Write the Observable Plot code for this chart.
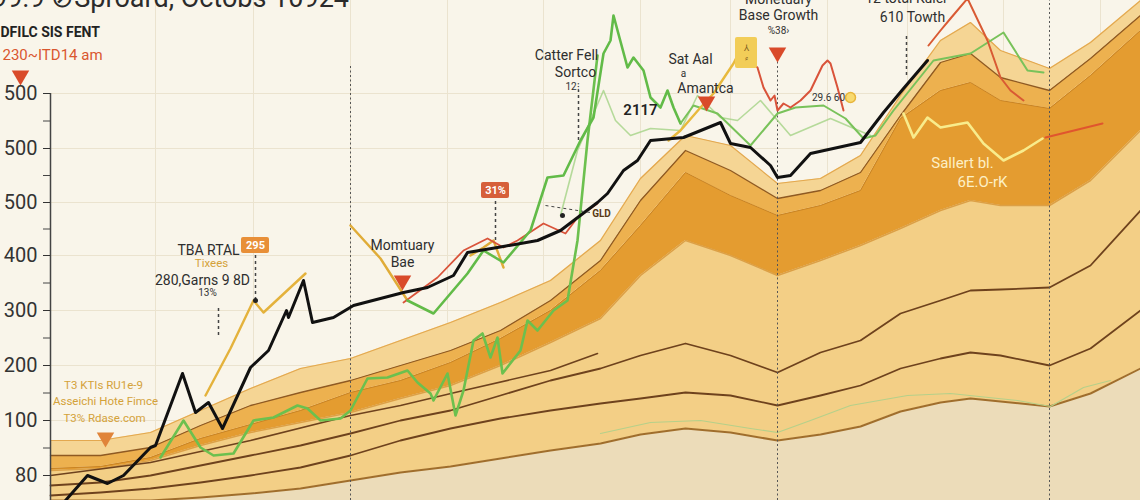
<!DOCTYPE html>
<html><head><meta charset="utf-8">
<script src="https://cdn.jsdelivr.net/npm/d3@7"></script>
<script src="https://cdn.jsdelivr.net/npm/@observablehq/plot@0.6"></script>
<style>
html,body{margin:0;padding:0;background:#f9f5ea;overflow:hidden}
#wrap{position:relative;width:1140px;height:500px;}
#title{position:absolute;left:-8px;top:-16px;font:27px Roboto, sans-serif;line-height:28px;color:#2b2b2b;white-space:nowrap;z-index:2}
</style></head><body>
<div id="wrap"><div id="title">99.9 ⊘Sproard, Octobs 10924</div><div id="chart"></div></div>
<script>
// axis ticks
const tickVals = [5,16,27,38,49,59.6,70.4,81.4];
const tickLabels = ["80","100","200","300","400","500","500","500"];
const minorVals = [10.5,21.5,32.5,43.5,54.3,65,75.9];
const gridXVals = [10.5,20.3,30,39.7,49.3,59,68,77.7,85.7,95.3,105];

// stacked band boundaries
const bandT    = [0,5,10,15,20,25,30,35,40,45,50,55,59,63.5,68,72.7,77,81,85,89,92,95,99.9,104,109];
const baseTop  = [0,0,0,0.6,1.4,2.4,4,5.6,6.8,8.4,10,11.4,13.2,14.4,13.6,12,13.2,14.8,17.8,19.6,20.4,19.8,18.8,21.4,26.4];
const line2    = [1,1.6,2.4,3.6,5,6.6,9,12,14.4,16.4,18,19.4,20.4,21.6,21,19,21,23,26.4,28.4,29.6,29,27,30.4,38];
const line3    = [3,3.6,5,7,9,11,13.4,16,18,21,24,26.4,29,31.4,29,25.6,29.6,32,37.4,40,42,42.2,42.6,47,58];
const tanTop   = [6,6.4,8,11,13.6,15.6,17.6,20.4,23,27,31.6,36.4,45,52,49,45,48,51,54.4,58,60,59,59,64,74];
const darkTop  = [6.4,6.8,8.6,12.4,15.2,18,21.6,24,27.6,32.4,38,46,55,65.6,61,57,59,62,76.4,82,83.6,80,78.4,85,94];
const midTop   = [9,9,10.6,15,19,21.6,24,27,30,34,40,48,60,70,66,60.4,62,65.6,77,87.6,89.4,84.6,82,88.4,97];
const lightTop = [12,12,13.6,18,22.4,26.4,28.4,32,35.6,39.6,44,52,64.4,73,71,63.4,64.4,69,81,92,95.6,90,86.4,91.6,100];
const line4T = [0,10,20,30,35,41.3,50,54.7];
const line4V = [5,7.6,12,17,19,22,26,29.4];

// series lines
const blackT = [1.5,3.7,5.7,7.3,10,10.5,13.2,14.5,15.8,17.2,20,21.8,23.6,23.8,25.3,26.2,28.3,30.3,35.3,37.7,40.3,41.7,44.7,48.7,51,54.7,55.7,57.3,58.7,60,63.3,67,68,70,72,72.7,74,76,81,83.3,85.3,87.7];
const blackV = [0,5,3.4,5,10.6,11,25.4,17.6,19.6,14.4,26.6,30,38,36.6,44,35.6,36.6,39,41.6,42.6,45,49.6,50.6,52,54,59.6,61.4,66,68,72,72.6,75.6,71.4,70.6,67,64.6,65,69.4,71.6,77.6,82.4,88];

const greenAT = [35.7,38.3,41.7,43.3,45.3,48,49.7,51.3,53,54.3,55.3,56,56.3,57.7,58.3,59.3,60,61,61.7,62.3,63];
const greenAV = [40,37.4,45.4,50,47.6,54,64.6,65,72,76.6,89.4,92,97,86.6,88.6,86,80.6,78.6,82,78.6,75.4];
const greenBT = [11,13.3,15,16.3,18.3,20.3,22.3,24.7,25.7,27,29,30,31.7,33.7,35.7,36.7,38,38.3,39.7,40.5,41.3,42.3,43.2,44,44.7,45.2,47,47.7,48.7,50.3,51.7,52.2,52.7,53.7,54.7];
const greenBV = [8.6,16,10.6,9,9.4,16,16.6,19,18.4,16,16.4,18,24.4,24.6,26,23.6,21.4,20,25.4,17,22,32,33.4,28.6,32.6,25.4,30,36,34,38,40,46,52,72,89];
const greenCT = [63,64.3,66.7,70,72.7,74.5,77.3,79.5,81.3,82.5,84.3,88.3,92,95.3,97.7,99.3];
const greenCV = [75.4,79,77.4,71,77.4,78.6,79,76.4,72.4,73,78,88,89.4,93.6,86,85.6];
const paleGreenT = [51,52.7,55.3,56.5,58,60,63,64.7,67,68.7,71,74,78,82];
const paleGreenV = [57,70,82,76,73,74.4,74,81,76.6,76,80,73,76.4,73];
const lowGreenT = [55,60,65,70,72.7,76,80,85.7,90,96.7,100,103.3,106];
const lowGreenV = [13.4,15.6,16,14.4,13.6,16,19,21,21.4,20,18.8,22.6,24];

const red1T = [35.3,38.7,41.3,43.7,45.3,46.7,49.3,51.5,52.7,54.7];
const red1V = [39.6,44.6,50,52.4,50.6,52,55.4,53.4,56.6,59.4];
const red2T = [70,70.7,71.3,72,72.4,72.7,73.3,74,75,76,77.2,77.7,78,78.7,79.3];
const red2V = [87.6,86.6,82.6,80,81,78,79.4,78.6,80,82,87,88,87.4,82.6,78];
const red3T = [87.8,89,90,91.7,93.7,95,96,97.3];
const red3V = [91,94,96.4,100.4,92,84.6,82,80];
const red4T = [99.5,105.2];
const red4V = [72.6,75.4];

const gold1T = [15.5,18,20.3,21.3,25.5];
const gold1V = [21,30.4,40,37.6,45.4];
const gold2T = [30,33,35.7];
const gold2V = [55,48.4,40];
const gold3T = [42,43.3,44.3,45.3];
const gold3V = [49,50.6,52,46.6];
const gold4T = [61.8,63,65,66.3,68.3,69.3];
const gold4V = [72,74,78.6,81.4,87.4,91.4];
const paleGoldT = [85.3,86.3,87.7,89,91.7,93.3,95.3,97.3,99.2];
const paleGoldV = [77.4,72.6,76.6,74.6,75.6,71.4,68,70,72.4];

// annotation rules (dotted markers)
const longRuleT = [30,72.7,99.9];
const longRuleTop = [87,88,100];
const shortRuleT = [16.8,20.5,52.8,44.5,85.6];
const shortRuleLo = [33,40,72,52,85];
const shortRuleHi = [39,49,82,60,93.4];

// annotation texts
const darkLabels = ["Catter Fell","Sortco","Base Growth","Monetuary","Sat Aal","Amantca","610 Towth","12 total Kuler","TBA RTAL","280,Garns 9 8D","Momtuary","Bae"];
const darkLabelT = [51.6,52.5,72.8,72.8,64,65.5,86.2,85.6,15.8,15.2,35.2,35.2];
const darkLabelV = [89,85.6,97,100.2,88.2,82.4,96.6,100.4,50,44,51,47.6];
const smallLabels = ["12⁝","%38›","a","29.6 60","13%"];
const smallLabelT = [52.2,72.8,63.3,77.8,15.7];
const smallLabelV = [82.8,94,85.3,80.6,41.6];
const goldLabels = ["T3 KTIs RU1e-9","Asseichi Hote Fimce","T3% Rdase.com","Tixees"];
const goldLabelT = [5.3,5.5,5.4,16.1];
const goldLabelV = [23,19.8,16.4,47.4];
const creamLabels = ["Sallert bl.","6E.O-rK"];
const creamLabelT = [91.2,93.2];
const creamLabelV = [67.4,63.6];
const boxLabels = ["31%","295"];
const boxT = [44.5,20.5];
const boxV = [62,51];
const redMarkT = [-3,35.2,65.6,72.7];
const redMarkV = [85,44,79.8,89.6];

const pts = (T, V) => T.map((t, i) => ({t, v: V[i]}));
const bands = bandT.map((t, i) => ({t, base: baseTop[i], l2: line2[i], l3: line3[i], tan: tanTop[i], dark: darkTop[i], mid: midTop[i], light: lightTop[i]}));
const lab = (L, T, V) => L.map((s, i) => ({s, t: T[i], v: V[i]}));
const labelMap = new Map(tickVals.map((d, i) => [d, tickLabels[i]]));
const F = "Roboto, sans-serif";

const chart = Plot.plot({
  width: 1140, height: 500,
  marginLeft: 50, marginRight: 0, marginTop: 0, marginBottom: 0,
  x: {domain: [0, 109], axis: null},
  y: {domain: [0, 100]},
  style: {background: "#f9f5ea", fontFamily: F, overflow: "hidden"},
  marks: [
    Plot.ruleY(tickVals, {stroke: "#ebe3cf", strokeWidth: 1}),
    Plot.ruleX(gridXVals, {stroke: "#ebe3cf", strokeWidth: 1}),
    Plot.areaY(bands, {x: "t", y1: 0, y2: "base", fill: "#ecdcb9"}),
    Plot.areaY(bands, {x: "t", y1: "base", y2: "tan", fill: "#f3cf86"}),
    Plot.areaY(bands, {x: "t", y1: "tan", y2: "dark", fill: "#e49c30"}),
    Plot.areaY(bands, {x: "t", y1: "dark", y2: "mid", fill: "#edb14f"}),
    Plot.areaY(bands, {x: "t", y1: "mid", y2: "light", fill: "#f5d594"}),
    Plot.line(bands, {x: "t", y: "light", stroke: "#e3a84f", strokeWidth: 1.2}),
    Plot.line(bands, {x: "t", y: "mid", stroke: "#8f5a22", strokeWidth: 1.3}),
    Plot.line(bands, {x: "t", y: "dark", stroke: "#c98424", strokeWidth: 1}),
    Plot.line(bands, {x: "t", y: "tan", stroke: "#dca046", strokeWidth: 1.5}),
    Plot.line(bands, {x: "t", y: "l3", stroke: "#6e421d", strokeWidth: 1.8}),
    Plot.line(bands, {x: "t", y: "l2", stroke: "#6e421d", strokeWidth: 1.8}),
    Plot.line(bands, {x: "t", y: "base", stroke: "#a06e2c", strokeWidth: 2}),
    Plot.line(pts(line4T, line4V), {x: "t", y: "v", stroke: "#6e421d", strokeWidth: 1.6}),
    Plot.line(pts(lowGreenT, lowGreenV), {x: "t", y: "v", stroke: "#b5d08a", strokeWidth: 1.2}),
    Plot.ruleX(longRuleT.map((t, i) => ({t, top: longRuleTop[i]})), {x: "t", y1: 0, y2: "top", stroke: "#555", strokeWidth: 1, strokeDasharray: "2,2.5"}),
    Plot.ruleX(shortRuleT.map((t, i) => ({t, lo: shortRuleLo[i], hi: shortRuleHi[i]})), {x: "t", y1: "lo", y2: "hi", stroke: "#444", strokeWidth: 1.5, strokeDasharray: "3,3"}),
    Plot.line(pts(paleGreenT, paleGreenV), {x: "t", y: "v", stroke: "#a9d58c", strokeWidth: 1.6, strokeOpacity: 0.85}),
    Plot.line(pts(greenBT, greenBV), {x: "t", y: "v", stroke: "#6cc04e", strokeWidth: 2.6, strokeLinejoin: "round"}),
    Plot.line(pts(paleGoldT, paleGoldV), {x: "t", y: "v", stroke: "#f8ec8c", strokeWidth: 2.6}),
    Plot.line(pts(red4T, red4V), {x: "t", y: "v", stroke: "#e0552e", strokeWidth: 2}),
    Plot.line(pts(gold1T, gold1V), {x: "t", y: "v", stroke: "#e4b23c", strokeWidth: 2.4}),
    Plot.line(pts(gold2T, gold2V), {x: "t", y: "v", stroke: "#e0ac38", strokeWidth: 2.4}),
    Plot.line(pts(gold3T, gold3V), {x: "t", y: "v", stroke: "#e0ac38", strokeWidth: 2.4}),
    Plot.line(pts(red1T, red1V), {x: "t", y: "v", stroke: "#d9533a", strokeWidth: 1.8}),
    Plot.line(pts(greenAT, greenAV), {x: "t", y: "v", stroke: "#62bb48", strokeWidth: 2.6, strokeLinejoin: "round"}),
    Plot.line(pts(greenCT, greenCV), {x: "t", y: "v", stroke: "#79c25a", strokeWidth: 2}),
    Plot.line(pts(gold4T, gold4V), {x: "t", y: "v", stroke: "#e8b93c", strokeWidth: 2.4}),
    Plot.line(pts(red2T, red2V), {x: "t", y: "v", stroke: "#d9533a", strokeWidth: 2}),
    Plot.line(pts(red3T, red3V), {x: "t", y: "v", stroke: "#d95a33", strokeWidth: 2}),
    Plot.line(pts(blackT, blackV), {x: "t", y: "v", stroke: "#111", strokeWidth: 3, strokeLinejoin: "round"}),
    Plot.rect([{t: 69.6, v: 89.5}], {x1: d => d.t - 1.1, x2: d => d.t + 1.1, y1: d => d.v - 3.1, y2: d => d.v + 3.1, fill: "#f2cd58", rx: 2}),
    Plot.text([{t: 69.6, v: 89.5}], {x: "t", y: "v", text: () => "⅄\n⸗", fontSize: 9, fill: "#7a5a20", lineHeight: 1.1}),
    Plot.dot([{t: 80, v: 80.6}], {x: "t", y: "v", r: 5, fill: "#f8da70", stroke: "#e8b53c", strokeWidth: 1.5}),
    Plot.dot([{t: 20.5, v: 40}, {t: 51.2, v: 57}], {x: "t", y: "v", r: 2.5, fill: "#222"}),
    Plot.link([{a: 49.5, b: 59, c: 54, d: 57.6}], {x1: "a", y1: "b", x2: "c", y2: "d", stroke: "#444", strokeDasharray: "3,3"}),
    Plot.dot(pts(redMarkT, redMarkV), {x: "t", y: "v", symbol: "triangle", rotate: 180, r: 6.5, fill: "#d94a2a"}),
    Plot.dot([{t: 5.5, v: 12.6}], {x: "t", y: "v", symbol: "triangle", rotate: 180, r: 6.5, fill: "#e0843a"}),
    Plot.text(lab(darkLabels, darkLabelT, darkLabelV), {x: "t", y: "v", text: "s", fontSize: 14, fill: "#2e2e2e", fontFamily: F}),
    Plot.text(lab(smallLabels, smallLabelT, smallLabelV), {x: "t", y: "v", text: "s", fontSize: 10, fill: "#333", fontFamily: F}),
    Plot.text(lab(goldLabels, goldLabelT, goldLabelV), {x: "t", y: "v", text: "s", fontSize: 11.5, fill: "#d4a23a", fontFamily: F}),
    Plot.text(lab(creamLabels, creamLabelT, creamLabelV), {x: "t", y: "v", text: "s", fontSize: 15, fill: "#fdf0c6", fontFamily: F}),
    Plot.text(lab(["2117"], [59], [78]), {x: "t", y: "v", text: "s", fontSize: 15, fill: "#222", fontWeight: 600, fontFamily: F}),
    Plot.text(lab(["GLD"], [55.1], [57.4]), {x: "t", y: "v", text: "s", fontSize: 10, fill: "#5a3a14", fontWeight: 700, fontFamily: F}),
    Plot.rect(lab(boxLabels, boxT, boxV), {x1: d => d.t - 1.4, x2: d => d.t + 1.4, y1: d => d.v - 1.6, y2: d => d.v + 1.6, fill: (d, i) => i === 0 ? "#d65f3a" : "#e88f38", rx: 2}),
    Plot.text(lab(boxLabels, boxT, boxV), {x: "t", y: "v", text: "s", fontSize: 11, fontWeight: 700, fill: "#fff", fontFamily: F}),
    Plot.text(lab(["DFILC SIS FENT"], [-5], [93.6]), {x: "t", y: "v", text: "s", textAnchor: "start", fontSize: 14, fontWeight: 700, fill: "#222", fontFamily: F}),
    Plot.text(lab(["230~ITD14 am"], [-4.8], [89]), {x: "t", y: "v", text: "s", textAnchor: "start", fontSize: 15, fill: "#d9572f", fontFamily: F}),
    Plot.ruleX([0], {y1: 0, y2: 81.4, stroke: "#444", strokeWidth: 1.5}),
    Plot.axisY(tickVals, {tickSize: 7, tickPadding: 6, tickFormat: d => labelMap.get(d), fontSize: 20, color: "#333", label: null}),
    Plot.axisY(minorVals, {tickSize: 7, tickFormat: () => "", color: "#444", label: null})
  ]
});
document.getElementById("chart").appendChild(chart);
</script></body></html>
